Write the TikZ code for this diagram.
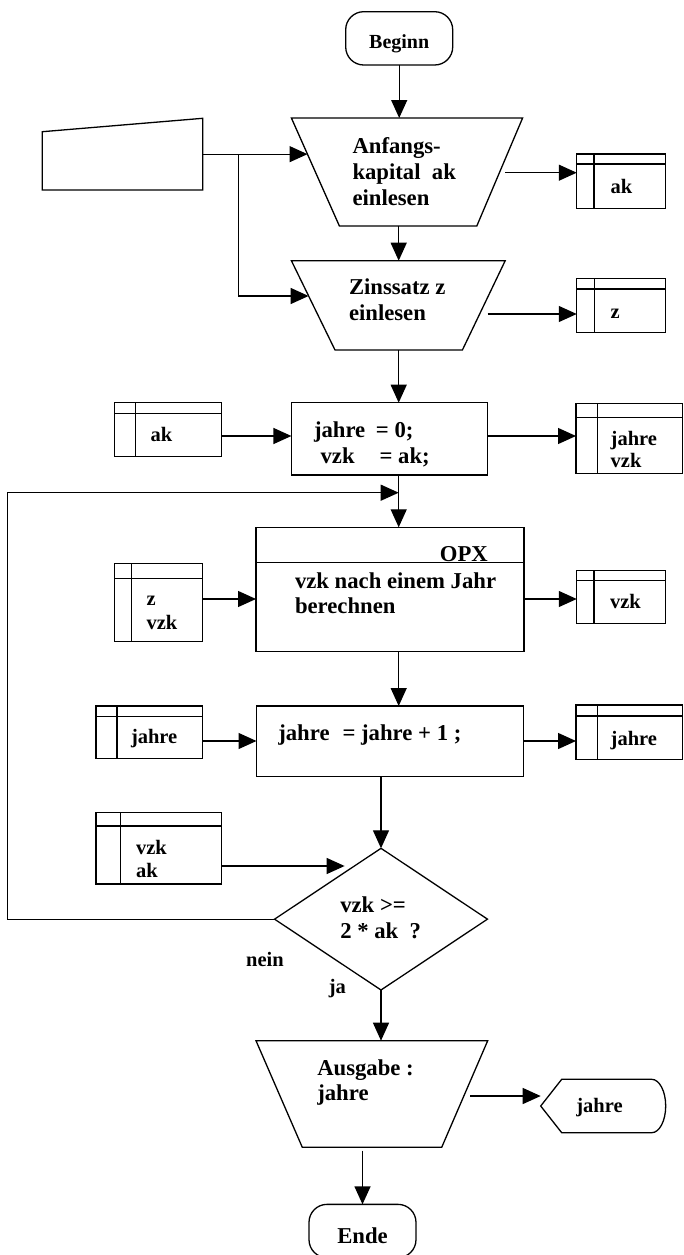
\documentclass[tikz,border=0pt]{standalone}
\usepackage{fontspec}
\setmainfont{Liberation Serif}
\usetikzlibrary{arrows.meta,shapes.geometric}
% left-aligned multi-line text whose baseline is the first line
\newcommand{\txtlines}[1]{\begin{tabular}[t]{@{}l@{}}#1\end{tabular}}
% outline of an input/output trapezoid spanning node #1 (wide side on top)
\newcommand{\iotrap}[3]{\draw (#1.north west) -- (#1.north east) -- ([xshift=-#3]#1.south east) -- ([xshift=#2]#1.south west) -- cycle;}
% header row and index column of a data store node #1
\newcommand{\storelines}[3]{\draw ([yshift=-#2]#1.north west) -- ([yshift=-#2]#1.north east);
  \draw ([xshift=#3]#1.north west) -- ([xshift=#3]#1.south west);}
\begin{document}
\begin{tikzpicture}[x=1pt,y=-1pt,
  line width=1.3pt,
  every node/.style={inner sep=0pt, outer sep=0pt},
  arr/.style={-{Triangle[length=18pt,width=16pt]}},
  big/.style={font=\bfseries\fontsize{22.7}{25.5}\selectfont},
  small/.style={font=\bfseries\fontsize{20.5}{23}\selectfont},
  term/.style={draw, rectangle, rounded corners=18pt, minimum width=107pt, minimum height=53.3pt},
  procbox/.style={draw, rectangle},
  trapbox/.style={rectangle},
  store/.style={draw, rectangle},
]
\useasboundingbox (0,0) rectangle (684,1255);

% ---------- terminals ----------
\node[term, text height=19.9pt, text depth=0pt, font=\bfseries\fontsize{20}{23}\selectfont] (beg) at (399.2,38.35) {Beginn};
\node[term, big, text height=24.6pt, text depth=0pt] (ende) at (362.5,1231) {Ende};

% ---------- manual input ----------
\node[minimum width=160.5, minimum height=71.7] (man) at (122.55,154.15) {};
\draw (man.south west) -- (man.south east) -- (man.north east) -- ([yshift=-13.4pt]man.north west) -- cycle;

% ---------- input / output trapezoids ----------
\node[trapbox, minimum width=231.2, minimum height=108] (t1) at (407,172) {};
\iotrap{t1}{48pt}{45.8pt}
\node[anchor=base west, font=\bfseries\fontsize{22.7}{26}\selectfont] (t1t) at (352.5,153) {\txtlines{Anfangs-\\kapital\ \ ak\\einlesen}};

\node[trapbox, minimum width=213.8, minimum height=89.3] (t2) at (398.3,305.35) {};
\iotrap{t2}{43.6pt}{42.8pt}
\node[big, anchor=base west] (t2t) at (349,294.5) {\txtlines{Zinssatz z\\einlesen}};

\node[trapbox, minimum width=231.7, minimum height=106.6] (out) at (371.85,1094) {};
\iotrap{out}{46.3pt}{46pt}
\node[anchor=base west, font=\bfseries\fontsize{22.7}{25}\selectfont] (outt) at (317.3,1075) {\txtlines{Ausgabe :\\jahre}};

% ---------- process boxes ----------
\node[procbox, minimum width=196.3, minimum height=72.3] (box0) at (389.55,438.85) {};
\node[big, anchor=base west] (box0t) at (314,437.5) {\txtlines{\makebox[62pt][l]{jahre}= 0;\\\hspace*{6.6pt}\makebox[59pt][l]{vzk}= ak;}};

\node[procbox, minimum width=268, minimum height=124.4] (opx) at (390,589.5) {};
\draw ([yshift=-35.4pt]opx.north west) -- ([yshift=-35.4pt]opx.north east);
\node[big, anchor=base] (opxh) at (463.8,561.5) {OPX};
\node[anchor=base west, font=\bfseries\fontsize{22.7}{25}\selectfont] (opxt) at (295,588.3) {\txtlines{vzk nach einem Jahr\\berechnen}};

\node[procbox, minimum width=267, minimum height=70.7] (boxJ) at (390,741.35) {};
\node[big, anchor=base west] (boxJt) at (278.3,740) {jahre\hspace{13pt}= jahre + 1 ;};

% ---------- decision ----------
\node[draw, diamond, minimum width=212.9, minimum height=141.7] (dia) at (381,919.15) {};
\node[anchor=base west, font=\bfseries\fontsize{22.7}{25.6}\selectfont] (diat) at (340.3,912.7) {\txtlines{vzk >=\\2 * ak\ \ ?}};
\node[small, anchor=base] (nein) at (265,966.7) {nein};
\node[small, anchor=base] (ja) at (337.3,993.3) {ja};

% ---------- display ----------
\node[minimum width=125, minimum height=53.4] (disp) at (603.2,1106) {};
\draw (disp.west) -- ([xshift=21pt]disp.north west) -- ([xshift=-14pt]disp.north east)
  arc[start angle=90, end angle=-90, x radius=14pt, y radius=26.7pt]
  -- ([xshift=21pt]disp.south west) -- cycle;
\node[small, anchor=base] (dispt) at (599.5,1112) {jahre};

% ---------- data stores ----------
\node[store, minimum width=88.5, minimum height=54.3] (sAk1) at (621,181.15) {};
\storelines{sAk1}{10pt}{17.3pt}
\node[small, anchor=base west] (sAk1t) at (610.5,193) {ak};

\node[store, minimum width=88.5, minimum height=54] (sZ) at (621,305.3) {};
\storelines{sZ}{10.7pt}{17.4pt}
\node[small, anchor=base west] (sZt) at (610.5,318.6) {z};

\node[store, minimum width=106.9, minimum height=54] (sAk2) at (167.75,429.7) {};
\storelines{sAk2}{10.6pt}{20.9pt}
\node[small, anchor=base west] (sAk2t) at (150.5,441) {ak};

\node[store, minimum width=106.6, minimum height=70] (sJV) at (629.3,438.3) {};
\storelines{sJV}{14pt}{21.3pt}
\node[anchor=base west, font=\bfseries\fontsize{20.5}{22.3}\selectfont] (sJVt) at (610.7,445) {\txtlines{jahre\\vzk}};

\node[store, minimum width=88.5, minimum height=78.4] (sZV) at (158.55,602.5) {};
\storelines{sZV}{15pt}{17.4pt}
\node[anchor=base west, font=\bfseries\fontsize{20.5}{23.5}\selectfont] (sZVt) at (146.5,605.5) {\txtlines{z\\vzk}};

\node[store, minimum width=88.5, minimum height=52.6] (sV) at (621,597) {};
\storelines{sV}{10pt}{17.3pt}
\node[small, anchor=base west] (sVt) at (610,608) {vzk};

\node[store, minimum width=106.8, minimum height=52.7] (sJ1) at (149.4,732.35) {};
\storelines{sJ1}{10.7pt}{21pt}
\node[small, anchor=base west] (sJ1t) at (131,743.5) {jahre};

\node[store, minimum width=106.6, minimum height=54.3] (sJ2) at (629.3,732.15) {};
\storelines{sJ2}{11pt}{21.3pt}
\node[small, anchor=base west] (sJ2t) at (610.7,745) {jahre};

\node[store, minimum width=125.2, minimum height=71.3] (sVA) at (158.6,848.35) {};
\storelines{sVA}{13.3pt}{24.8pt}
\node[anchor=base west, font=\bfseries\fontsize{20.5}{23.3}\selectfont] (sVAt) at (136,854) {\txtlines{vzk\\ak}};

% ---------- connectors ----------
\coordinate (ax) at (398.7,0);
\draw[arr] (beg.south) -- (beg.south |- t1.north);

\coordinate (j1) at (238.6,154.15);
\coordinate (in1) at (307.5,154.15);
\coordinate (in2) at (308.6,296);
\draw[arr] (man.east) -- (in1);
\draw[arr] (j1) |- (in2);

\coordinate (o1) at (505,172.7);
\draw[arr] (o1) -- (o1 -| sAk1.west);
\draw[arr] (ax |- t1.south) -- (ax |- t2.north);

\coordinate (o2) at (487.7,314);
\draw[arr] (o2) -- (o2 -| sZ.west);
\draw[arr] (ax |- t2.south) -- (ax |- box0.north);

\coordinate (r0) at (0,436);
\draw[arr] (sAk2.east |- r0) -- (box0.west |- r0);
\draw[arr] (box0.east |- r0) -- (sJV.west |- r0);
\draw[arr] (ax |- box0.south) -- (ax |- opx.north);

\coordinate (lp) at (7.4,492.7);
\coordinate (lpe) at (398.7,492.7);
\draw[arr] (dia.west) -| (lp) -- (lpe);

\coordinate (r1) at (0,599);
\draw[arr] (sZV.east |- r1) -- (opx.west |- r1);
\draw[arr] (opx.east |- r1) -- (sV.west |- r1);
\draw[arr] (ax |- opx.south) -- (ax |- boxJ.north);

\coordinate (r2) at (0,741);
\draw[arr] (sJ1.east |- r2) -- (boxJ.west |- r2);
\draw[arr] (boxJ.east |- r2) -- (sJ2.west |- r2);
\draw[arr] (dia.north |- boxJ.south) -- (dia.north);

\coordinate (d1) at (344.6,866);
\draw[arr] (sVA.east |- d1) -- (d1);
\draw[arr] (dia.south) -- (dia.south |- out.north);

\coordinate (o3) at (470,1096);
\draw[arr] (o3) -- (o3 -| disp.west);
\coordinate (o4) at (362.5,1150.7);
\draw[arr] (o4) -- (ende.north);
\end{tikzpicture}
\end{document}
